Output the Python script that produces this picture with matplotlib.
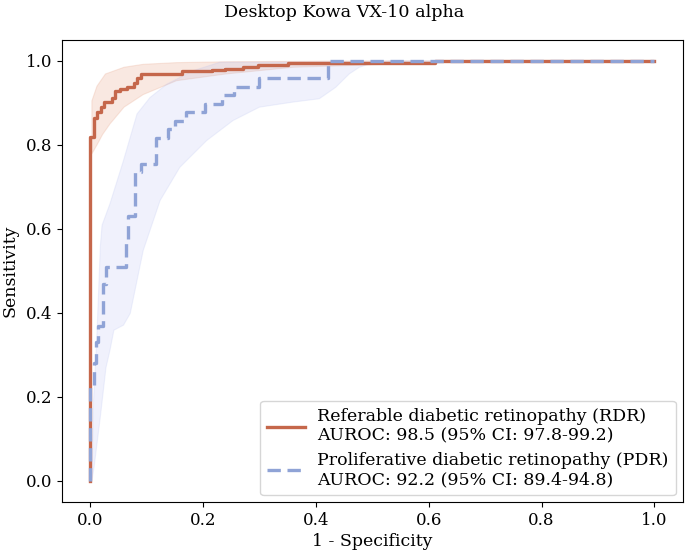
import numpy as np
import matplotlib
matplotlib.use("Agg")
import matplotlib.pyplot as plt

plt.rcParams['font.family'] = ['DejaVu Serif']

# ROC curve for RDR (corner points)
rdr_fpr = [0, 0, 0.006, 0.006, 0.012, 0.012, 0.019, 0.019, 0.025, 0.025, 0.038, 0.038,
           0.044, 0.044, 0.053, 0.053, 0.065, 0.065, 0.077, 0.077, 0.083, 0.083, 0.09, 0.09,
           0.162, 0.162, 0.215, 0.215, 0.239, 0.239, 0.27, 0.27, 0.297, 0.297, 0.35, 0.35,
           0.612, 0.612, 1.0]
rdr_tpr = [0, 0.818, 0.818, 0.864, 0.864, 0.878, 0.878, 0.89, 0.89, 0.902, 0.902, 0.913,
           0.913, 0.928, 0.928, 0.933, 0.933, 0.939, 0.939, 0.947, 0.947, 0.96, 0.96, 0.969,
           0.969, 0.976, 0.976, 0.979, 0.979, 0.982, 0.982, 0.986, 0.986, 0.991, 0.991, 0.996,
           0.996, 1.0, 1.0]

# ROC curve for PDR (corner points)
pdr_fpr = [0, 0, 0.006, 0.006, 0.010, 0.010, 0.014, 0.014, 0.022, 0.022, 0.028, 0.028,
           0.063, 0.063, 0.067, 0.067, 0.08, 0.08, 0.09, 0.09, 0.117, 0.117, 0.138, 0.138,
           0.15, 0.15, 0.17, 0.17, 0.203, 0.203, 0.233, 0.233, 0.255, 0.255, 0.3, 0.3,
           0.422, 0.422, 1.0]
pdr_tpr = [0, 0.224, 0.224, 0.28, 0.28, 0.33, 0.33, 0.37, 0.37, 0.47, 0.47, 0.51,
           0.51, 0.57, 0.57, 0.632, 0.632, 0.735, 0.735, 0.755, 0.755, 0.816, 0.816, 0.837,
           0.837, 0.857, 0.857, 0.878, 0.878, 0.898, 0.898, 0.918, 0.918, 0.939, 0.939, 0.959,
           0.959, 1.0, 1.0]

# Confidence bands: upper and lower edges
rdr_up_fpr = [0.003, 0.003, 0.012, 0.027, 0.06, 0.094, 0.153, 0.24, 0.36, 0.48, 1.0]
rdr_up_tpr = [0.779, 0.905, 0.94, 0.969, 0.985, 0.992, 0.996, 0.998, 0.999, 1.0, 1.0]
rdr_lo_fpr = [0.003, 0.012, 0.022, 0.035, 0.06, 0.094, 0.153, 0.24, 0.36, 0.48, 0.6, 1.0]
rdr_lo_tpr = [0.779, 0.80, 0.825, 0.85, 0.89, 0.92, 0.953, 0.969, 0.985, 0.99, 0.997, 1.0]

pdr_up_fpr = [0.003, 0.006, 0.012, 0.018, 0.021, 0.035, 0.059, 0.083, 0.106, 0.136,
              0.183, 0.23, 1.0]
pdr_up_tpr = [0.0, 0.193, 0.351, 0.56, 0.609, 0.66, 0.763, 0.874, 0.913, 0.945,
              0.977, 0.997, 1.0]
pdr_lo_fpr = [0.003, 0.007, 0.018, 0.028, 0.035, 0.042, 0.059, 0.071, 0.094, 0.124,
              0.159, 0.206, 0.253, 0.3, 0.359, 0.406, 0.435, 0.459, 0.477, 0.5, 0.53, 1.0]
pdr_lo_tpr = [0.0, 0.034, 0.153, 0.27, 0.311, 0.359, 0.371, 0.399, 0.549, 0.668,
              0.747, 0.81, 0.858, 0.89, 0.902, 0.91, 0.937, 0.969, 0.985, 0.995, 1.0, 1.0]

labels = ["Referable diabetic retinopathy (RDR)\nAUROC: 98.5 (95% CI: 97.8-99.2)",
          "Proliferative diabetic retinopathy (PDR)\nAUROC: 92.2 (95% CI: 89.4-94.8)"]
ticks = [0.0, 0.2, 0.4, 0.6, 0.8, 1.0]

rdr_color = '#c5674b'
pdr_color = '#8fa3d6'

fig = plt.figure(figsize=(6.85, 5.55), dpi=100)
ax = fig.add_axes([0.0905, 0.0955, 0.906, 0.8325])

ax.fill(np.concatenate([rdr_up_fpr, rdr_lo_fpr[::-1]]),
        np.concatenate([rdr_up_tpr, rdr_lo_tpr[::-1]]),
        color='#e8a58a', alpha=0.25, lw=0.8, zorder=1)
ax.fill(np.concatenate([pdr_up_fpr, pdr_lo_fpr[::-1]]),
        np.concatenate([pdr_up_tpr, pdr_lo_tpr[::-1]]),
        color='#b4bdf0', alpha=0.2, lw=0.8, zorder=1)

ax.plot(rdr_fpr, rdr_tpr, color=rdr_color, lw=2.4, label=labels[0], zorder=3)
ax.plot(pdr_fpr, pdr_tpr, color=pdr_color, lw=2.4, ls=(0, (4, 2)), label=labels[1], zorder=4)

ax.set_xlim(-0.05, 1.05)
ax.set_ylim(-0.05, 1.05)
ax.set_xticks(ticks)
ax.set_yticks(ticks)
ax.tick_params(labelsize=12)
ax.set_xlabel('1 - Specificity', fontsize=12.5, labelpad=3)
ax.set_ylabel('Sensitivity', fontsize=12.5, labelpad=5)
fig.suptitle('Desktop Kowa VX-10 alpha', fontsize=12.6, x=0.503, y=0.993, va='top')
ax.legend(loc='lower right', fontsize=12.5, handlelength=2.2, framealpha=0.8,
          borderaxespad=0.4, labelspacing=0.4, handletextpad=0.7)

fig.savefig('out.png', dpi=100)
